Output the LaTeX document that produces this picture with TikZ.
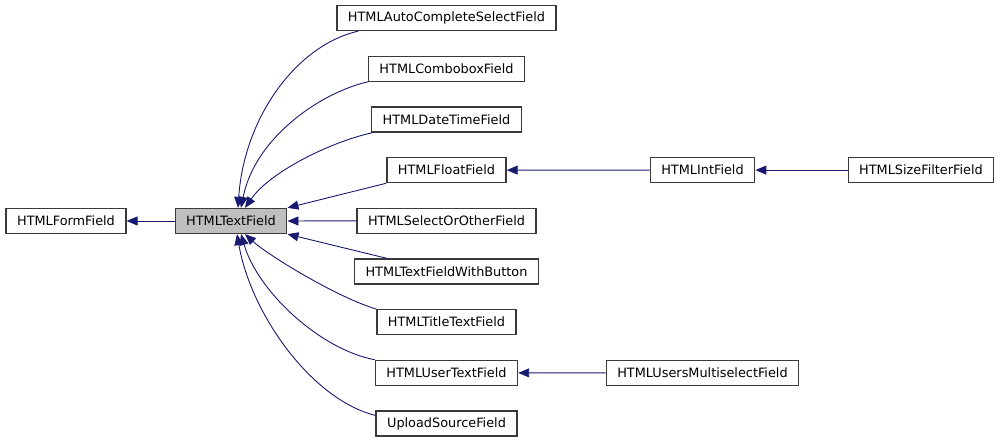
\documentclass[tikz,border=0pt]{standalone}
\usepackage{fontspec}
\setmainfont{DejaVu Sans}
\usetikzlibrary{arrows.meta,%
                positioning,%
                calc
              }
\definecolor{edgeblue}{HTML}{191970}
\definecolor{boxgray}{HTML}{BFBFBF}
\definecolor{boxline}{HTML}{3A3A3A}
% name/text/row of the classes derived from HTMLTextField
\def\childrenTF{auto/HTMLAutoCompleteSelectField/0, combo/HTMLComboboxField/1,
  date/HTMLDateTimeField/2, float/HTMLFloatField/3,
  select/HTMLSelectOrOtherField/4, button/HTMLTextFieldWithButton/5,
  title/HTMLTitleTextField/6, user/HTMLUserTextField/7,
  upload/UploadSourceField/8}
\begin{document}
\begin{tikzpicture}[x=1pt,y=-1pt,
    every node/.style={rectangle,draw=boxline,line width=1.3pt,fill=white,%
      minimum height=25pt,inner xsep=11pt,inner ysep=0pt,%
      font=\fontsize{12.85}{15}\selectfont},
    inherit/.style={draw=edgeblue,line width=0.9pt,%
      -{Triangle[length=11pt,width=9pt,fill=edgeblue]}}]
  \useasboundingbox (0,0) rectangle (1000,443);

  %% CLASS BOXES
  \node (form) at (66,221) {HTMLFormField};
  \node[fill=boxgray] (tf) at (231,221) {HTMLTextField};
  \foreach \nm/\txt/\i in \childrenTF {%
    \node (\nm) at (446.5,{18+50.7*\i}) {\txt};
  }
  \node (int) at (702.5,170.1) {HTMLIntField};
  \node (size) at (921,170.1) {HTMLSizeFilterField};
  \node (multi) at (702.5,372.9) {HTMLUsersMultiselectField};

  %% INHERITANCE EDGES
  \draw[inherit] (tf.west) -- (form.east);
  \draw[inherit] ([xshift=22pt]auto.south west)
    .. controls +(-62,14) and +(6,-90) .. ([xshift=7pt]tf.north);
  \draw[inherit] (combo.south west)
    .. controls +(-48,11) and +(14,-70) .. ([xshift=10pt]tf.north);
  \draw[inherit] ([xshift=2pt]date.south west)
    .. controls +(-42,9) and +(25,-36) .. ([xshift=14pt]tf.north);
  \draw[inherit] (float.south west) -- (tf.north east);
  \draw[inherit] (select.west) -- (tf.east);
  \draw[inherit] ([xshift=33pt]button.north west) -- (tf.south east);
  \draw[inherit] (title.north west)
    .. controls +(-40,-12) and +(23,21) .. ([xshift=14pt]tf.south);
  \draw[inherit] (user.north west)
    .. controls +(-54,-10) and +(17,58) .. ([xshift=10pt]tf.south);
  \draw[inherit] ([yshift=-5pt]upload.north west)
    .. controls +(-64,-16) and +(14,80) .. ([xshift=6pt]tf.south);
  \draw[inherit] (int.west) -- (float.east);
  \draw[inherit] (size.west) -- (int.east);
  \draw[inherit] (multi.west) -- (user.east);
\end{tikzpicture}
\end{document}
